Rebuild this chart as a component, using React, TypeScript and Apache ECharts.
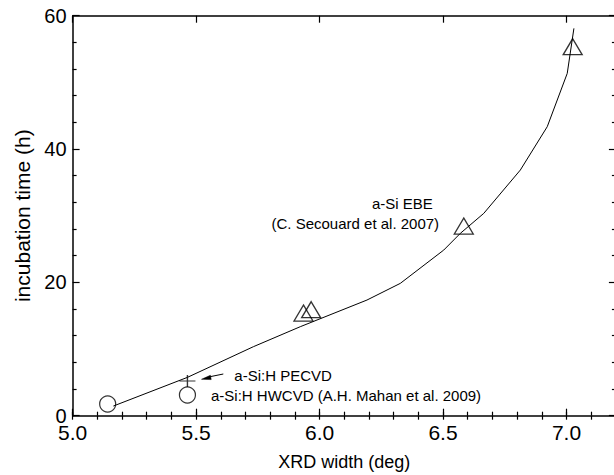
import React, { useEffect, useRef } from "react";
import * as echarts from "echarts";

// Fitted curve (polyline) of incubation time vs XRD width
const curvePoints: [number, number][] = [
  [5.165, 1.45],
  [5.465, 5.75],
  [5.732, 10.35],
  [5.922, 13.35],
  [6.192, 17.35],
  [6.327, 19.85],
  [6.503, 24.85],
  [6.57, 27.35],
  [6.665, 30.35],
  [6.813, 36.85],
  [6.922, 43.35],
  [7.003, 51.35],
  [7.03, 58.1],
];

// a-Si EBE (C. Secouard et al. 2007) – triangles
const ebePoints: [number, number][] = [
  [5.935, 15.4],
  [5.966, 15.9],
  [6.584, 28.45],
  [7.025, 55.35],
];

// a-Si:H HWCVD (A.H. Mahan et al. 2009) – circles
const hwcvdPoints: [number, number][] = [
  [5.142, 1.75],
  [5.465, 3.1],
];

// a-Si:H PECVD – plus
const pecvdPoints: [number, number][] = [[5.465, 5.2]];

const xMajorTicks = [5.0, 5.5, 6.0, 6.5, 7.0];
const xMin = 5.0;
const xMax = 7.2;
const yMin = 0;
const yMax = 60;
const yInterval = 20;

const FONT = '"Liberation Sans", Arial, Helvetica, sans-serif';

export default function App() {
  const ref = useRef<HTMLDivElement>(null);

  useEffect(() => {
    if (!ref.current) return;
    const chart = echarts.init(ref.current, undefined, { renderer: "svg" });

    const black = "#000";
    const tickStyle = { color: black, width: 1.2 };

    const baseX = {
      type: "value" as const,
      min: xMin,
      max: xMax,
      splitLine: { show: false },
    };

    const option: any = {
      animation: false,
      backgroundColor: "#fff",
      grid: {
        left: 72.6,
        top: 15.7,
        width: 543.3,
        height: 400,
        containLabel: false,
        outerBoundsMode: "none",
      },
      xAxis: [
        {
          ...baseX,
          position: "bottom",
          axisLine: { show: true, onZero: false, lineStyle: { color: black, width: 1.5 } },
          axisTick: { show: true, inside: true, length: 7, lineStyle: tickStyle, customValues: xMajorTicks },
          axisLabel: {
            show: true,
            customValues: xMajorTicks,
            formatter: (v: number) => v.toFixed(1),
            fontSize: 21,
            lineHeight: 16,
            color: black,
            margin: 8.5,
            fontFamily: FONT,
          },
          name: "XRD width (deg)",
          nameLocation: "middle",
          nameGap: 37,
          nameTextStyle: { fontSize: 18, color: black, fontFamily: FONT },
        },
        {
          ...baseX,
          position: "bottom",
          interval: 0.1,
          axisLine: { show: false },
          axisTick: { show: true, inside: true, length: 4, lineStyle: tickStyle },
          axisLabel: { show: false },
        },
        {
          ...baseX,
          position: "top",
          axisLine: { show: true, onZero: false, lineStyle: { color: black, width: 1.5 } },
          axisTick: { show: true, inside: true, length: 7, lineStyle: tickStyle, customValues: xMajorTicks },
          axisLabel: { show: false },
        },
        {
          ...baseX,
          position: "top",
          interval: 0.1,
          axisLine: { show: false },
          axisTick: { show: true, inside: true, length: 4, lineStyle: tickStyle },
          axisLabel: { show: false },
        },
      ],
      yAxis: [
        {
          type: "value",
          position: "left",
          min: yMin,
          max: yMax,
          interval: yInterval,
          splitLine: { show: false },
          axisLine: { show: true, onZero: false, lineStyle: { color: black, width: 1.5 } },
          axisTick: { show: true, inside: true, length: 7, lineStyle: tickStyle },
          minorTick: { show: true, splitNumber: 5, length: 4, lineStyle: tickStyle },
          axisLabel: {
            fontSize: 20,
            lineHeight: 14,
            padding: [0, 0, 3, 0],
            color: black,
            margin: 6,
            fontFamily: FONT,
          },
          name: "incubation time (h)",
          nameLocation: "middle",
          nameGap: 36,
          nameTextStyle: { fontSize: 21, color: black, fontFamily: FONT },
        },
        {
          type: "value",
          position: "right",
          min: yMin,
          max: yMax,
          interval: yInterval,
          splitLine: { show: false },
          axisLine: { show: true, onZero: false, lineStyle: { color: black, width: 1.5 } },
          axisTick: { show: true, inside: true, length: 7, lineStyle: tickStyle },
          minorTick: { show: true, splitNumber: 5, length: 4, lineStyle: tickStyle },
          axisLabel: { show: false },
        },
      ],
      series: [
        {
          name: "fit",
          type: "line",
          data: curvePoints,
          symbol: "none",
          smooth: false,
          lineStyle: { color: black, width: 1 },
          xAxisIndex: 0,
          yAxisIndex: 0,
          z: 2,
        },
        {
          name: "a-Si EBE",
          type: "scatter",
          data: ebePoints,
          symbol: "triangle",
          symbolSize: [19, 16],
          itemStyle: { color: "rgba(0,0,0,0)", borderColor: black, borderWidth: 1.3 },
          xAxisIndex: 0,
          yAxisIndex: 0,
          z: 3,
        },
        {
          name: "a-Si:H HWCVD",
          type: "scatter",
          data: hwcvdPoints,
          symbol: "circle",
          symbolSize: 16,
          itemStyle: { color: "rgba(0,0,0,0)", borderColor: black, borderWidth: 1.2 },
          xAxisIndex: 0,
          yAxisIndex: 0,
          z: 3,
        },
        {
          name: "a-Si:H PECVD",
          type: "scatter",
          data: pecvdPoints,
          symbol: "path://M0,6L16,6M8,0L8,12",
          symbolSize: [16, 12],
          symbolKeepAspect: false,
          itemStyle: { color: "rgba(0,0,0,0)", borderColor: black, borderWidth: 1.2 },
          xAxisIndex: 0,
          yAxisIndex: 0,
          z: 3,
        },
      ],
      graphic: [
        {
          type: "text",
          style: { text: "a-Si EBE", x: 372, y: 203, font: `15px ${FONT}`, fill: black, align: "left", verticalAlign: "middle" },
        },
        {
          type: "text",
          style: {
            text: "(C. Secouard et al. 2007)",
            x: 271.5,
            y: 223.5,
            font: `15px ${FONT}`,
            fill: black,
            align: "left",
            verticalAlign: "middle",
          },
        },
        {
          type: "text",
          style: { text: "a-Si:H PECVD", x: 234.3, y: 375, font: `15px ${FONT}`, fill: black, align: "left", verticalAlign: "middle" },
        },
        {
          type: "text",
          style: {
            text: "a-Si:H HWCVD (A.H. Mahan et al. 2009)",
            x: 211,
            y: 395,
            font: `15px ${FONT}`,
            fill: black,
            align: "left",
            verticalAlign: "middle",
          },
        },
        {
          type: "line",
          shape: { x1: 223.3, y1: 374, x2: 209.5, y2: 376.8 },
          style: { stroke: black, lineWidth: 1 },
        },
        {
          type: "polygon",
          shape: { points: [[201.5, 379.3], [211.2, 379.6], [210.4, 375.3]] },
          style: { fill: black, stroke: black, lineWidth: 0.5 },
        },
      ],
    };

    chart.setOption(option);
    return () => chart.dispose();
  }, []);

  return (
    <div
      ref={ref}
      style={{ position: "absolute", left: 0, top: 0, width: 614, height: 475, background: "#fff" }}
    />
  );
}
